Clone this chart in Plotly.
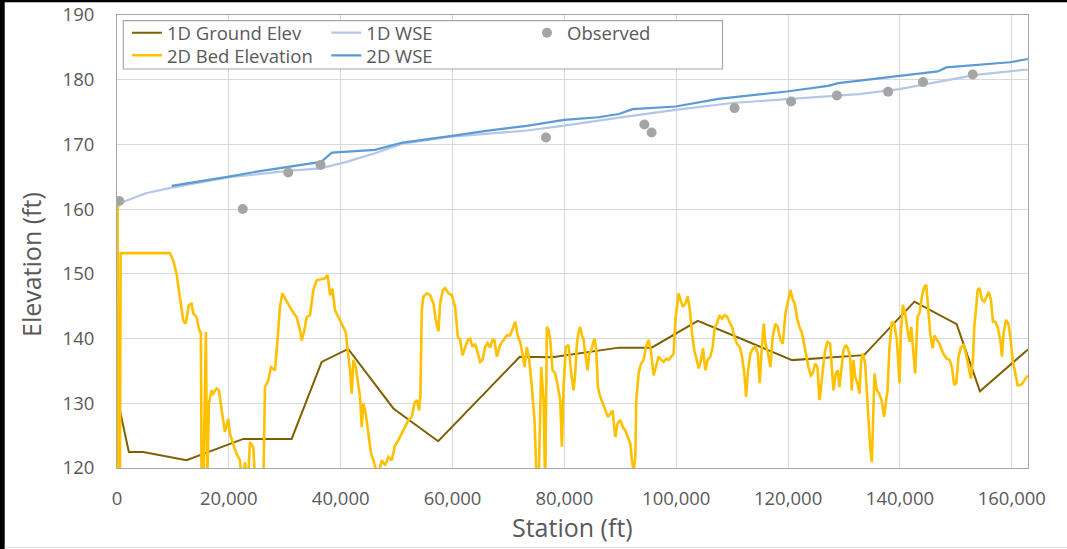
import plotly.graph_objects as go

# ---------------- data ----------------
ground_x = [0, 50, 150, 2118, 4683, 12440, 22580, 31230, 36600, 41340, 49420, 57430,
            72030, 77820, 89750, 95590, 103850, 111820, 120710, 133580, 142590, 150140,
            154300, 162880]
ground_y = [126.1, 134.1, 130.4, 122.46, 122.46, 121.2, 124.5, 124.5, 136.4, 138.4, 129.2,
            124.13, 137.2, 137.1, 138.6, 138.6, 142.75, 139.9, 136.67, 137.44, 145.7,
            142.24, 131.87, 138.3]

wse1d_x = [0, 400, 2000, 5150, 9790, 20000, 30600, 36400, 41200, 46000, 51080, 59890,
           73270, 80000, 89150, 99870, 110000, 119780, 132670, 139900, 147380, 153500, 162880]
wse1d_y = [159.6, 160.9, 161.4, 162.46, 163.33, 164.93, 165.9, 166.3, 167.35, 168.6, 170.1,
           171.22, 172.15, 172.9, 174.06, 175.35, 176.4, 177.0, 177.78, 178.55, 179.73,
           180.76, 181.58]

wse2d_x = [9790, 15000, 20000, 25000, 30620, 35170, 36500, 38440, 46140, 51080, 55000,
           59890, 66000, 73270, 79950, 86085, 89750, 92200, 99870, 107540, 119780, 127160,
           128980, 133000, 139900, 146760, 148290, 153500, 159640, 162880]
wse2d_y = [163.6, 164.3, 165.03, 165.8, 166.57, 167.1, 167.3, 168.74, 169.16, 170.29, 170.8,
           171.32, 172.1, 172.87, 173.8, 174.2, 174.7, 175.45, 175.86, 177.05, 178.18, 179.06,
           179.48, 179.9, 180.6, 181.28, 181.9, 182.3, 182.7, 183.2]

obs_x = [400, 22480, 30620, 36400, 76710, 94300, 95590, 110430, 120540, 128730, 137880,
         144130, 153020]
obs_y = [161.27, 160.03, 165.65, 166.84, 171.06, 173.07, 171.84, 175.61, 176.63, 177.56,
         178.13, 179.63, 180.81]

bed_x = [0, 100, 230, 350, 450, 520, 650, 1402, 9455, 10052, 10649, 11245, 11842, 12259,
         12856, 13333, 13632, 14228, 14646, 15004, 15123, 15421, 15898, 16137, 16435, 16912,
         17211, 17807, 18225, 18702, 19299, 19896, 20194, 20791, 21387, 21984, 22401, 22878,
         23356, 23773, 24370, 24787, 26160, 26457, 27054, 27531, 28247, 28725, 29142, 29560,
         30037, 30633, 31230, 32125, 32721, 33020, 33497, 33914, 34511, 35107, 35704, 37195,
         37673, 38090, 38508, 38985, 39582,
         40477, 40895, 41253, 41671, 41969, 42267, 42685, 43162, 43460, 43759, 44057, 44475,
         44952, 45429, 45847, 46145, 46742, 47338, 47935, 48531, 49128, 49725, 50321, 50918,
         51515, 52111, 52708, 53185, 53603, 54020, 54259, 54497, 54796, 55392, 55989, 56586,
         57003, 57480, 57779, 58256, 58674, 59270, 59867, 60463, 60941, 61358, 61776, 62253,
         62730, 63148, 63566, 64043, 64461, 64938, 65356, 65833, 66250, 66728, 67145, 67503,
         67921, 68518, 69114, 69711, 70307, 70725, 71202, 71679, 72097, 72515, 72873, 73290,
         73708, 74185, 74663, 75080, 75378, 75856, 76273, 76571, 76870, 77168, 77466, 77884,
         78361, 78838, 79256, 79554, 79853, 80270, 80747, 81224, 81642,
         81939, 82237, 82535, 82834, 83132, 83430, 83728, 84146, 84444, 84802, 85101, 85399,
         85697, 85995, 86413, 86831, 87308, 87785, 88203, 88621, 89098, 89515, 89993, 90410,
         90888, 91365, 91783, 92081, 92379, 92677, 92856, 93274, 93691, 94169, 94586, 95064,
         95481, 95959, 96376, 96854, 97331, 97749, 98226, 98644, 99121, 99539, 99837, 100135,
         100433, 100851, 101209, 101626, 102044, 102402, 102820, 103237, 103595, 104013,
         104431, 104789, 105206, 105624, 106101, 106519, 106877, 107294, 107712, 108189,
         108607, 109084, 109502, 109979, 110397, 110874, 111351, 111769, 112187, 112485,
         112843, 113260, 113738, 114155, 114573, 114931, 115229, 115647, 115945, 116422,
         116840, 117258, 117735, 118153, 118630, 119048, 119525, 120002, 120420, 120838,
         121196, 121613, 122031, 122508, 122926,
         123221, 123639, 124057, 124414, 124832, 125250, 125607, 125846, 126204, 126622,
         127039, 127516, 127815, 128113, 128531, 128889, 129187, 129605, 129903, 130320,
         130678, 131096, 131394, 131693, 131991, 132409, 132767, 133065, 133363, 133781,
         134079, 134377, 134676, 134974, 135272, 135451, 135869, 136286, 136704, 137181,
         137539, 137778, 138136, 138554, 138971, 139448, 139926, 140165, 140523, 140940,
         141358, 141716, 142014, 142432, 142730, 143148, 143506, 143923, 144341, 144699,
         144997, 145415, 145833, 146190, 146608, 147085, 147503, 147920, 148398, 148875,
         149292, 149710, 150068, 150486, 150903, 151381, 151798, 152275, 152693, 153051,
         153290, 153588, 153886, 154245, 154662, 155080, 155438, 155855, 156273, 156631,
         157049, 157466, 157944, 158242, 158540, 158958, 159376, 159734, 160151, 160628,
         161046, 161523, 161941, 162418, 162895]
bed_y = [117, 162, 117, 137, 139, 117, 153.2, 153.2, 153.2, 152.1, 150.0, 146.4, 142.8, 142.3,
         145.2, 145.4, 143.9, 143.3, 141.5, 140.8, 117, 117, 141.0, 117, 130.0, 132.0,
         131.5, 132.3, 132.0, 129.0, 125.6, 127.6, 125.3, 123.7, 122.2, 121.2, 117, 120.9,
         117, 124.0, 123.2, 117, 117, 132.5, 133.5, 135.6, 135.1, 140.0, 144.9, 147.0,
         146.2, 145.2, 144.4, 143.3, 141.3, 139.7, 141.3, 143.3, 143.6, 147.5, 149.0, 149.3,
         149.8, 146.7, 147.7, 144.4, 143.3,
         141.6, 141.0, 138.2, 135.1, 131.5, 136.7, 135.6, 133.1, 131.0, 126.3, 130.0, 128.4,
         124.8, 122.2, 121.2, 120.2, 119.0, 121.2, 120.4, 121.7, 121.2, 123.5, 124.3, 125.3,
         126.4, 127.4, 127.9, 130.0, 130.5, 128.9, 131.5, 144.4, 146.5, 147.0, 146.7, 145.4,
         142.9, 141.1, 145.4, 147.5, 147.8, 147.0, 146.7, 144.9, 140.3, 139.8, 137.4, 138.7,
         139.8, 140.0, 138.7, 139.2, 137.7, 136.4, 136.7, 138.7, 139.3, 138.6, 139.8, 139.7,
         137.2, 139.0, 139.8, 140.5, 140.5, 141.6, 142.6, 140.3, 139.5, 137.7, 135.6, 138.7,
         136.7, 132.5, 127.4, 117, 117, 135.6, 130.5, 117, 141.8, 141.3, 139.8, 135.1,
         134.6, 132.5, 130.5, 123.3, 132.5, 138.7, 139.0, 134.6, 132.0,
         134.6, 139.2, 141.0, 141.8, 140.5, 139.8, 137.7, 135.1, 137.7, 138.2, 139.2, 140.0,
         138.2, 132.5, 131.0, 130.0, 128.9, 127.9, 128.4, 128.9, 124.8, 126.9, 127.4, 126.4,
         125.8, 124.8, 123.8, 121.2, 119.5, 121.7, 130.5, 134.6, 136.1, 136.7, 138.7, 139.8,
         138.0, 134.3, 135.6, 137.2, 136.7, 136.4, 136.9, 136.7, 137.2, 137.7, 142.9, 145.4,
         147.0, 145.7, 144.9, 145.4, 146.5, 144.7, 140.8, 138.2, 136.7, 135.4,
         136.7, 138.5, 135.1, 136.7, 137.2, 138.7, 141.8, 142.3, 143.6, 143.1,
         143.6, 143.4, 142.6, 141.8, 140.3, 139.2, 138.7, 137.2, 134.6, 131.0,
         135.1, 137.7, 138.5, 138.7, 137.7, 133.1, 137.7, 142.3, 139.2, 137.7,
         135.6, 140.3, 142.3, 141.8, 139.8, 139.2, 143.9, 146.0, 147.5, 146.0,
         145.4, 143.1, 141.8, 140.8, 138.7,
         137.2, 135.6, 134.3, 134.6, 136.1, 135.6, 130.5, 132.0, 135.1, 138.2,
         139.5, 139.2, 135.6, 132.0, 134.6, 135.1, 132.5, 135.6, 138.2, 139.0,
         138.5, 137.2, 132.0, 136.7, 134.1, 133.1, 131.5, 136.7, 137.7, 136.1,
         131.5, 128.9, 123.3, 120.9, 130.5, 134.6, 132.0, 131.5, 130.5, 127.9,
         130.5, 132.0, 138.7, 142.6, 142.3, 139.8, 133.1, 140.8, 145.2, 143.9,
         141.3, 139.5, 141.8, 137.2, 134.6, 143.4, 143.9, 146.5, 148.0, 148.3,
         144.9, 140.8, 138.5, 140.5, 139.8, 139.2, 138.2, 137.4, 136.9, 136.7,
         135.6, 132.8, 133.1, 137.2, 138.7, 139.0, 137.7, 135.6, 133.8, 136.7,
         141.8, 144.4, 147.5, 147.8, 146.0, 145.7, 146.5, 147.2, 146.0, 142.6,
         142.6, 141.8, 139.8, 137.2, 140.8, 142.9, 142.3, 140.3, 136.7, 134.6,
         132.8, 132.8, 133.1, 133.8, 134.3]

x_ticks = [0, 20000, 40000, 60000, 80000, 100000, 120000, 140000, 160000]
y_ticks = [120, 130, 140, 150, 160, 170, 180, 190]

# ---------------- figure ----------------
FONT = "Open Sans"
TXT = "#595959"

fig = go.Figure()
fig.add_trace(go.Scatter(x=ground_x, y=ground_y, mode="lines", name="1D Ground Elev",
                         line=dict(color="#7f6000", width=2), legend="legend"))
fig.add_trace(go.Scatter(x=wse1d_x, y=wse1d_y, mode="lines", name="1D WSE",
                         line=dict(color="#b4c7e7", width=2.2), legend="legend2"))
fig.add_trace(go.Scatter(x=bed_x, y=bed_y, mode="lines", name="2D Bed Elevation",
                         line=dict(color="#ffc000", width=2.6), legend="legend4"))
fig.add_trace(go.Scatter(x=wse2d_x, y=wse2d_y, mode="lines", name="2D WSE",
                         line=dict(color="#5b9bd5", width=2.2), legend="legend5"))
fig.add_trace(go.Scatter(x=obs_x, y=obs_y, mode="markers", name="Observed",
                         marker=dict(color="#a5a5a5", size=10), legend="legend3"))

L, R, T, B = 117, 39, 15, 81
W, H = 1067, 549
pw, ph = W - L - R, H - T - B


def xp(px):
    return (px - L) / pw


def yp(py):
    return (H - B - py) / ph


leg_common = dict(bgcolor="rgba(0,0,0,0)", borderwidth=0, xanchor="left", yanchor="top",
                  font=dict(family=FONT, size=18.5, color=TXT))

fig.update_layout(
    width=W, height=H,
    margin=dict(l=L, r=R, t=T, b=B, autoexpand=False),
    paper_bgcolor="white", plot_bgcolor="white",
    font=dict(family=FONT, color=TXT),
    showlegend=True,
    legend=dict(x=xp(126.9), y=yp(14.2), **leg_common),
    legend2=dict(x=xp(326.3), y=yp(14.2), **leg_common),
    legend3=dict(x=xp(527), y=yp(14.2), **leg_common),
    legend4=dict(x=xp(126.9), y=yp(36.8), **leg_common),
    legend5=dict(x=xp(326.3), y=yp(36.8), **leg_common),
    xaxis=dict(range=[0, 162900], tickvals=x_ticks, tickformat=",d",
               showgrid=True, gridcolor="#d9d9d9", gridwidth=1,
               showline=True, linecolor="#a6a6a6", linewidth=1, mirror=True,
               zeroline=False, ticks="", ticklabelstandoff=14,
               tickfont=dict(family=FONT, size=18.5, color=TXT)),
    yaxis=dict(range=[120, 190], tickvals=y_ticks,
               showgrid=True, gridcolor="#d9d9d9", gridwidth=1,
               showline=True, linecolor="#a6a6a6", linewidth=1, mirror=True,
               zeroline=False, ticks="", ticklabelstandoff=18,
               tickfont=dict(family=FONT, size=18.5, color=TXT)),
    annotations=[
        dict(text="Elevation (ft)", xref="paper", yref="paper", x=xp(31), y=yp(265),
             xanchor="center", yanchor="middle", textangle=-90, showarrow=False,
             font=dict(family=FONT, size=25, color=TXT)),
        dict(text="Station (ft)", xref="paper", yref="paper", x=xp(572.5), y=yp(527),
             xanchor="center", yanchor="middle", showarrow=False,
             font=dict(family=FONT, size=25, color=TXT)),
    ],
    shapes=[
        # legend frame
        dict(type="rect", xref="paper", yref="paper", x0=xp(123.3), x1=xp(722.5),
             y0=yp(69), y1=yp(20.7), fillcolor="white", line=dict(color="#a6a6a6", width=1.2),
             layer="above"),
        # screenshot frame
        dict(type="rect", xref="paper", yref="paper", x0=xp(-20), x1=xp(4.7),
             y0=yp(560), y1=yp(-20), fillcolor="black", line=dict(width=0), layer="above"),
        dict(type="rect", xref="paper", yref="paper", x0=xp(-20), x1=xp(1090),
             y0=yp(2.3), y1=yp(-20), fillcolor="black", line=dict(width=0), layer="above"),
        dict(type="line", xref="paper", yref="paper", x0=xp(4.7), x1=xp(1090),
             y0=yp(547.5), y1=yp(547.5), line=dict(color="#e0e0e0", width=1), layer="above"),
    ],
)

fig.write_html("out.html")
